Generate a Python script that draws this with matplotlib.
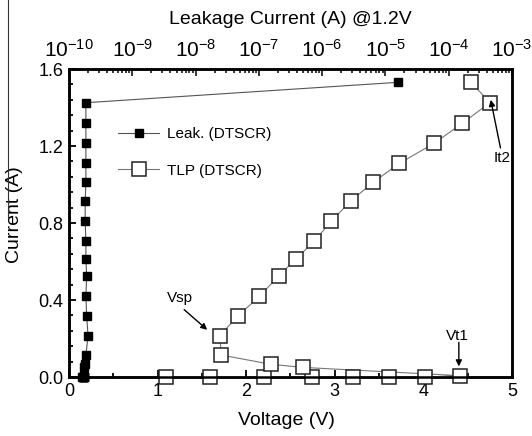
import matplotlib
matplotlib.use("Agg")
import matplotlib.pyplot as plt
from matplotlib.lines import Line2D
from matplotlib.ticker import MultipleLocator, LogLocator, NullFormatter, FuncFormatter

plt.rcParams["font.family"] = ["Liberation Sans", "DejaVu Sans"]
plt.rcParams["mathtext.default"] = "regular"

# TLP curve (bottom axis: voltage)
tlp_v = [1.09, 1.59, 2.20, 2.74, 3.21, 3.61, 4.02, 4.41, 2.64, 2.28, 1.72, 1.70,
         1.91, 2.15, 2.37, 2.56, 2.77, 2.96, 3.18, 3.43, 3.73, 4.12, 4.44, 4.75, 4.54]
tlp_i = [0.0, 0.0, 0.0, 0.0, 0.0, 0.0, 0.0, 0.007, 0.05, 0.066, 0.114, 0.215,
         0.318, 0.42, 0.526, 0.613, 0.706, 0.81, 0.914, 1.011, 1.11, 1.214, 1.318, 1.425, 1.531]

# leakage after each pulse (top axis: leakage current @1.2V)
leak_a = [1.62e-10, 1.65e-10, 1.65e-10, 1.68e-10, 1.7e-10, 1.7e-10, 1.72e-10, 1.75e-10,
          1.72e-10, 1.8e-10, 1.85e-10, 2.0e-10, 1.9e-10, 1.85e-10, 1.9e-10, 1.85e-10,
          1.85e-10, 1.8e-10, 1.8e-10, 1.85e-10, 1.85e-10, 1.85e-10, 1.85e-10, 1.85e-10, 1.6e-5]
leak_i = tlp_i

top_ticks = [1e-10, 1e-9, 1e-8, 1e-7, 1e-6, 1e-5, 1e-4, 1e-3]
top_labels = ["$10^{-10}$", "$10^{-9}$", "$10^{-8}$", "$10^{-7}$",
              "$10^{-6}$", "$10^{-5}$", "$10^{-4}$", "$10^{-3}$"]

fig = plt.figure(figsize=(5.32, 4.36), dpi=100)
ax = fig.add_axes([0.1297, 0.1353, 0.8327, 0.7064])
ax2 = ax.twiny()

ax.plot(tlp_v, tlp_i, "-", color="#777777", lw=0.8, marker="s", ms=10,
        mfc="white", mec="#222222", mew=1.1, clip_on=False, zorder=3)
ax2.plot(leak_a, leak_i, "-", color="#555555", lw=0.8, marker="s", ms=5.5,
         mfc="black", mec="black", clip_on=False, zorder=3)

ax.set_xlim(0, 5)
ax.set_ylim(0, 1.6)
ax.xaxis.set_major_locator(MultipleLocator(1))
ax.xaxis.set_minor_locator(MultipleLocator(0.5))
ax.yaxis.set_major_locator(MultipleLocator(0.4))
ax.yaxis.set_minor_locator(MultipleLocator(0.08))
ax.yaxis.set_major_formatter(FuncFormatter(lambda v, p: f"{v:.1f}"))
ax.tick_params(which="both", direction="in", labelsize=13, top=False, right=False, width=1.3)
ax.tick_params(which="major", length=5, pad=4)
ax.tick_params(which="minor", length=3)
ax.set_xlabel("Voltage (V)", fontsize=14, va="center")
ax.xaxis.set_label_coords(0.49, -0.14)
ax.set_ylabel("Current (A)", fontsize=14, va="center")
ax.yaxis.set_label_coords(-0.124, 0.526)

ax2.set_xscale("log")
ax2.set_xlim(1e-10, 1e-3)
ax2.set_xticks(top_ticks)
ax2.set_xticklabels(top_labels)
ax2.xaxis.set_minor_locator(LogLocator(base=10, subs=range(2, 10), numticks=20))
ax2.xaxis.set_minor_formatter(NullFormatter())
ax2.tick_params(which="both", direction="in", labelsize=15, width=1.1)
ax2.tick_params(which="major", length=5, pad=6)
ax2.tick_params(which="minor", length=3)
ax2.set_xlabel("Leakage Current (A) @1.2V", fontsize=14, labelpad=11)

for a in (ax, ax2):
    for s in a.spines.values():
        s.set_linewidth(1.8)

# annotations
arrow = dict(arrowstyle="-|>", color="black", lw=1.0, mutation_scale=9, shrinkA=0, shrinkB=0)
ax.text(1.25, 0.41, "Vsp", fontsize=11, ha="center", va="center")
ax.annotate("", xy=(1.56, 0.245), xytext=(1.30, 0.35), arrowprops=arrow)
ax.text(4.38, 0.215, "Vt1", fontsize=11, ha="center", va="center")
ax.annotate("", xy=(4.40, 0.055), xytext=(4.40, 0.18), arrowprops=arrow)
ax.text(4.89, 1.14, "It2", fontsize=11, ha="center", va="center")
ax.annotate("", xy=(4.76, 1.44), xytext=(4.87, 1.19), arrowprops=arrow)

h_leak = Line2D([], [], color="#555555", lw=0.8, marker="s", ms=5.5, mfc="black", mec="black")
h_tlp = Line2D([], [], color="#777777", lw=0.8, marker="s", ms=10, mfc="white",
               mec="#222222", mew=1.1)
ax.legend([h_leak, h_tlp], ["Leak. (DTSCR)", "TLP (DTSCR)"], loc="upper left",
          bbox_to_anchor=(0.08, 0.855), frameon=False, fontsize=11, handlelength=2.7,
          handletextpad=0.5, labelspacing=1.45)

# scan border artifact at left edge
fig.add_artist(Line2D([8 / 532, 8 / 532], [1.0, 1 - 218 / 436], transform=fig.transFigure,
                      color="#333333", lw=0.8))

fig.savefig("out.png", dpi=100)
